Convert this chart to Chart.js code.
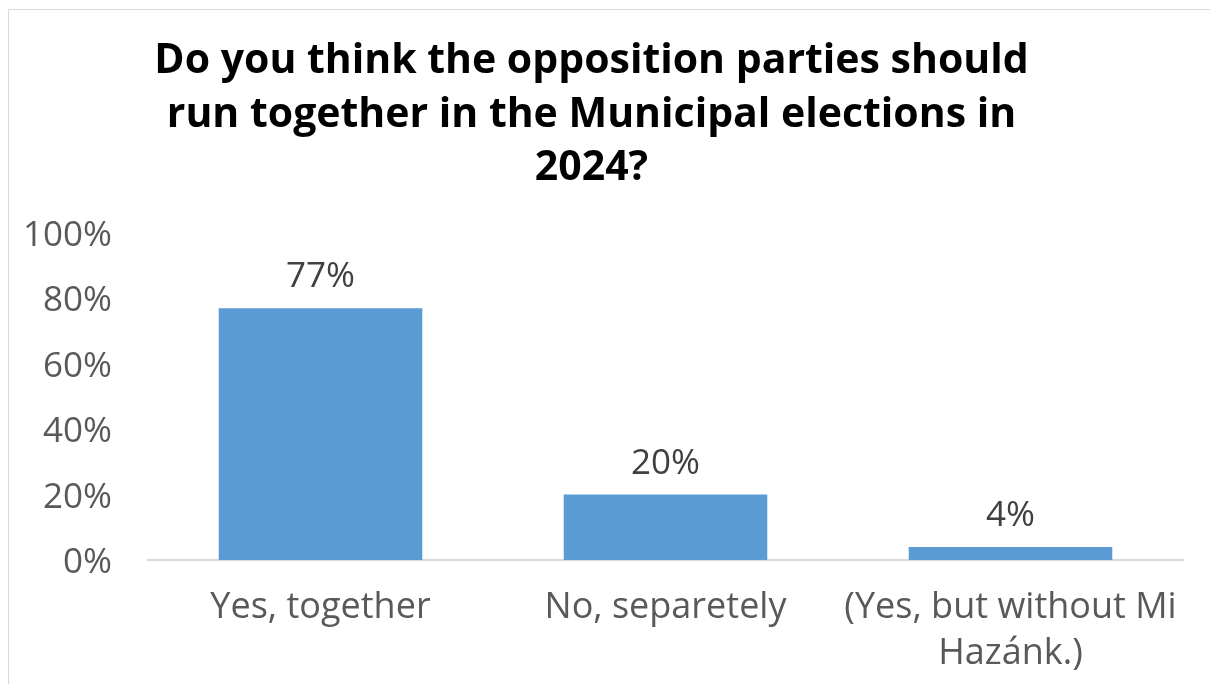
<!DOCTYPE html>
<html>
<head>
<meta charset="utf-8">
<script src="https://cdn.jsdelivr.net/npm/chart.js@4/dist/chart.umd.min.js"></script>
<style>
  html, body { margin: 0; padding: 0; background: #fff; }
  #frame {
    position: absolute; left: 8px; top: 9px; width: 1210px; height: 700px;
    border: 1px solid #d9d9d9; box-sizing: border-box;
  }
  #wrap { position: absolute; left: 0; top: 0; width: 1210px; height: 684px; }
</style>
</head>
<body>
<div id="frame"></div>
<div id="wrap"><canvas id="myChart" width="1210" height="684"></canvas></div>
<script>
var titulo = ['Do you think the opposition parties should', 'run together in the Municipal elections in', '2024?'];
var categorias = ['Yes, together', 'No, separetely', ['(Yes, but without Mi', 'Hazánk.)']];
var valores = [77, 20, 4];
var etiquetas = ['77%', '20%', '4%'];
var ticksY = [0, 20, 40, 60, 80, 100];

var fuente = '"Open Sans"';

// etiquetas de valor encima de cada barra
var etiquetasBarras = {
    id: 'etiquetasBarras',
    afterDatasetsDraw: function(chart) {
        var ctx = chart.ctx;
        var meta = chart.getDatasetMeta(0);
        ctx.save();
        ctx.font = '35px ' + fuente;
        ctx.fillStyle = '#404040';
        ctx.textAlign = 'center';
        ctx.textBaseline = 'middle';
        meta.data.forEach(function(bar, i) {
            ctx.fillText(etiquetas[i], bar.x, bar.y - 31);
        });
        ctx.restore();
    }
};

const ctx = document.getElementById('myChart');
const myChart = new Chart(ctx, {
    type: 'bar',
    data: {
        labels: categorias,
        datasets: [{
            data: valores,
            backgroundColor: '#5b9bd5',
            borderWidth: 0,
            barPercentage: 0.59,
            categoryPercentage: 1
        }]
    },
    options: {
        responsive: false,
        animation: false,
        layout: { padding: { left: 0, right: 27, top: 0, bottom: 0 } },
        plugins: {
            legend: { display: false },
            tooltip: { enabled: false },
            title: {
                display: true,
                text: titulo,
                color: '#000',
                font: { family: fuente, size: 41, weight: 'bold', lineHeight: 1.3 },
                padding: { top: 35, bottom: 38 }
            }
        },
        scales: {
            x: {
                grid: { display: false, drawTicks: false },
                border: { display: true, color: '#d9d9d9', width: 2 },
                ticks: {
                    color: '#595959',
                    font: { family: fuente, size: 36, lineHeight: 1.28 },
                    padding: 25,
                    maxRotation: 0
                },
                afterFit: function(scale) { scale.height = 124; }
            },
            y: {
                min: 0, max: 100,
                afterBuildTicks: function(scale) {
                    scale.ticks = ticksY.map(function(v) { return { value: v }; });
                },
                grid: { display: false, drawTicks: false },
                border: { display: false },
                ticks: {
                    color: '#595959',
                    font: { family: fuente, size: 35 },
                    padding: 36,
                    labelOffset: 3,
                    callback: function(v) { return v + '%'; }
                },
                afterFit: function(scale) { scale.width = 148; }
            }
        }
    },
    plugins: [etiquetasBarras]
});
</script>
</body>
</html>
